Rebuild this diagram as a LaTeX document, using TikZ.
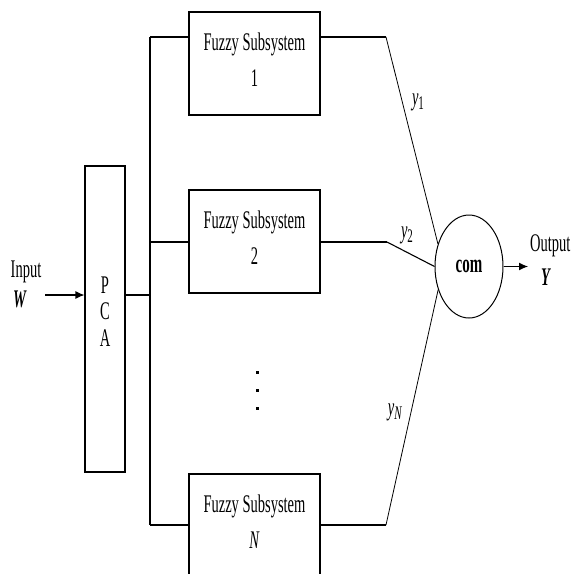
\documentclass[tikz,border=0pt]{standalone}
\usepackage{fontspec}
\usepackage{graphicx}
\setmainfont{Liberation Serif}
\usetikzlibrary{arrows.meta,shapes.geometric}
\newcommand{\st}[1]{\scalebox{1}[1.75]{#1}}
\tikzset{
  box/.style={draw, line width=1.1pt, rectangle, inner sep=0pt, minimum width=131pt, minimum height=103pt},
  boxtext/.style={inner sep=0pt, align=center, font=\fontsize{14.5}{20.6}\selectfont},
  pcabox/.style={draw, line width=1.1pt, rectangle, inner sep=0pt, minimum width=40pt, minimum height=306pt},
  pcatext/.style={inner sep=0pt, font=\fontsize{14.5}{15.1}\selectfont},
  combox/.style={draw, line width=1pt, ellipse, inner sep=0pt, minimum width=68pt, minimum height=103pt, font=\fontsize{15}{18}\selectfont\bfseries},
  wire/.style={line width=1.1pt},
  thin wire/.style={line width=0.8pt},
  arr/.style={line width=1.1pt, -{Latex[length=9pt,width=8pt]}},
  lbl/.style={inner sep=0pt, font=\fontsize{14.5}{17}\selectfont},
  dot/.style={fill=black, inner sep=0pt, minimum size=3pt, rectangle}
}
\begin{document}
\begin{tikzpicture}[x=1pt,y=-1pt]
\useasboundingbox (0,0) rectangle (572,574);
\clip (0,0) rectangle (572,574);
% blocks
\node[pcabox] (pca) at (105,319) {};
\node[pcatext] (pcat) at (105,314.5) {\st{\begin{tabular}{@{}c@{}}P\\C\\A\end{tabular}}};
\node[box] (f1) at (254.5,63.5) {};
\node[boxtext] (f1t) at (254.5,61.5) {\st{\begin{tabular}{@{}c@{}}Fuzzy Subsystem\\1\end{tabular}}};
\node[box] (f2) at (254.5,241.5) {};
\node[boxtext] (f2t) at (254.5,239.5) {\st{\begin{tabular}{@{}c@{}}Fuzzy Subsystem\\2\end{tabular}}};
\node[box] (fN) at (254.5,525.5) {};
\node[boxtext] (fNt) at (254.5,523) {\st{\begin{tabular}{@{}c@{}}Fuzzy Subsystem\\\textit{N}\end{tabular}}};
\node[combox] (com) at (469,266.5) {\st{com}};
% dots
\node[dot] (d1) at (257,372) {};
\node[dot] (d2) at (257,390) {};
\node[dot] (d3) at (257,408) {};
% labels
\node[lbl] (inlbl) at (26,272) {\st{Input}};
\node[lbl] (wlbl) at (20,299) {\st{\textbf{\textit{W}}}};
\node[lbl, anchor=west] (outlbl) at (530,246) {\st{Output}};
\node[lbl] (ylbl) at (546,277) {\st{\textbf{\textit{Y}}}};
\node[lbl] (y1) at (418,102) {\st{\textit{y}\raisebox{-0.35ex}{\fontsize{11}{12}\selectfont 1}}};
\node[lbl] (y2) at (407,235) {\st{\textit{y}\raisebox{-0.35ex}{\fontsize{11}{12}\selectfont 2}}};
\node[lbl] (yN) at (395,412) {\st{\textit{y}\raisebox{-0.35ex}{\fontsize{11}{12}\selectfont\textit{N}}}};
% coordinates
\coordinate (in) at (45,295);
\coordinate (b0) at (150,295);
\coordinate (bt) at (150,37);
\coordinate (bb) at (150,525);
\coordinate (k1) at (386,37);
\coordinate (k2) at (387,242);
\coordinate (kN) at (386,525);
\coordinate (out) at (528,266.5);
% connectors
\draw[arr] (in) -- (pca.west |- in);
\draw[wire] (pca.east |- b0) -- (b0);
\draw[wire] (bt) -- (bb);
\draw[wire] (bt) -- (f1.west |- bt);
\draw[wire] (bt |- k2) -- (f2.west |- k2);
\draw[wire] (bb) -- (fN.west |- bb);
\draw[wire] (f1.east |- k1) -- (k1);
\draw[thin wire] (k1) -- (com.144);
\draw[wire] (f2.east |- k2) -- (k2);
\draw[wire] (k2) -- (com.west);
\draw[wire] (fN.east |- kN) -- (kN);
\draw[thin wire] (kN) -- (com.217);
\draw[arr] (com.east) -- (out);
\end{tikzpicture}
\end{document}
